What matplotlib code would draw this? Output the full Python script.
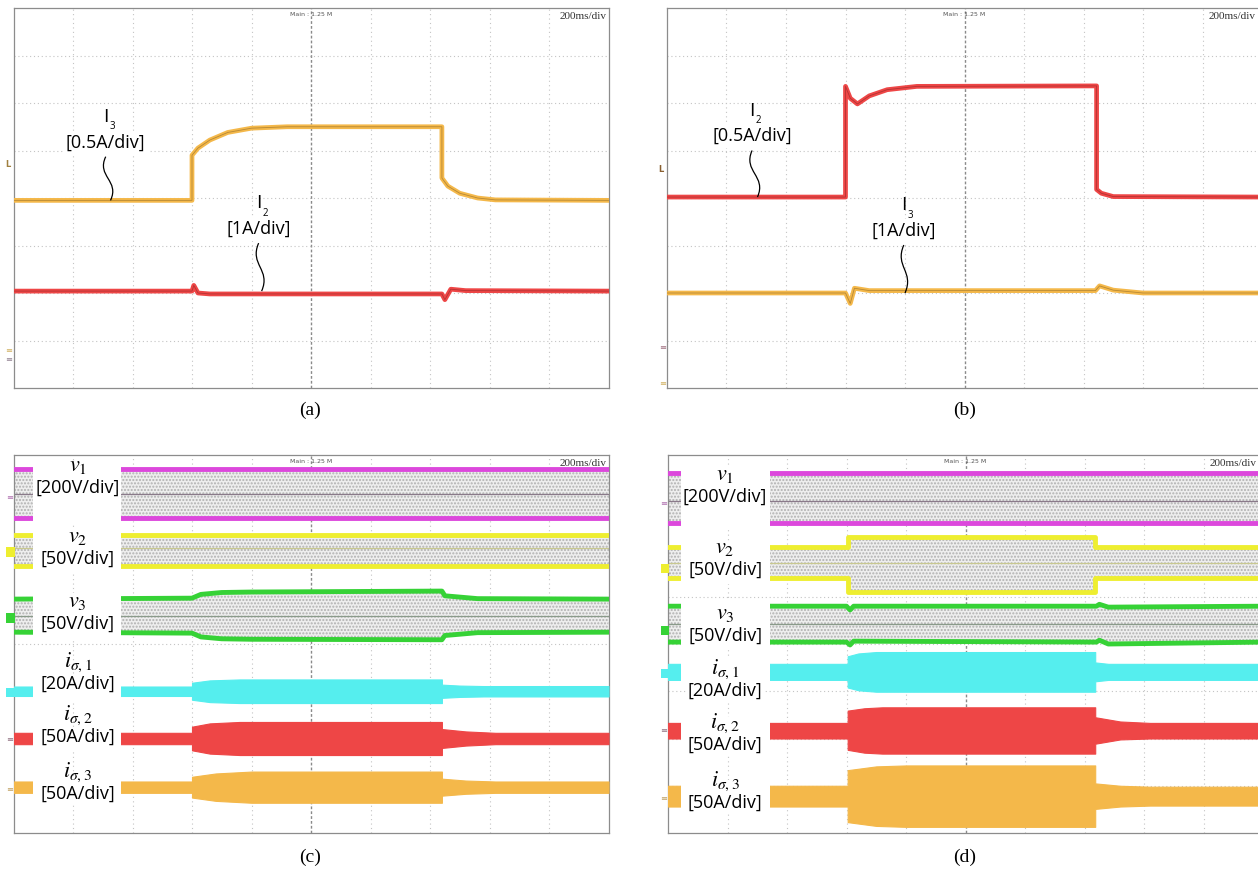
import numpy as np
import matplotlib
matplotlib.use("Agg")
import matplotlib.pyplot as plt
from matplotlib.path import Path
from matplotlib.patches import PathPatch, Rectangle

plt.rcParams['mathtext.fontset'] = 'stix'

# ---- data (in scope divisions: x 0..10 @ 200ms/div, y 0..8) ----
# panel (a)
a_t3 = [0, 3.0, 3.0, 3.1, 3.3, 3.6, 4.0, 4.6, 7.2, 7.2, 7.3, 7.5, 7.8, 8.1, 10]
a_i3 = [3.95, 3.95, 4.9, 5.05, 5.22, 5.38, 5.47, 5.5, 5.5, 4.42, 4.25, 4.1, 4.0, 3.96, 3.95]
a_t2 = [0, 3.0, 3.03, 3.1, 3.3, 7.2, 7.25, 7.35, 7.6, 10]
a_i2 = [2.04, 2.04, 2.16, 2.0, 1.98, 1.98, 1.86, 2.08, 2.05, 2.04]

# panel (b)
b_t2 = [0, 3.0, 3.0, 3.08, 3.2, 3.4, 3.7, 4.2, 7.22, 7.22, 7.3, 7.5, 10]
b_i2 = [4.02, 4.02, 6.35, 6.1, 5.98, 6.15, 6.28, 6.35, 6.36, 4.18, 4.1, 4.03, 4.02]
b_t3 = [0, 3.0, 3.08, 3.15, 3.4, 7.2, 7.27, 7.5, 8.0, 10]
b_i3 = [2.0, 2.0, 1.78, 2.1, 2.05, 2.05, 2.15, 2.06, 2.0, 2.0]

# panel (c) envelopes
c_v1 = dict(t=[0, 10], up=[7.70, 7.70], lo=[6.67, 6.67], mid=[7.17, 7.17])
c_v2 = dict(t=[0, 10], up=[6.31, 6.31], lo=[5.65, 5.65], mid=[6.03, 6.03])
c_v3 = dict(t=[0, 3.0, 3.15, 3.5, 4.0, 7.2, 7.25, 7.8, 10],
            up=[4.95, 4.97, 5.05, 5.09, 5.1, 5.12, 5.02, 4.96, 4.95],
            lo=[4.25, 4.23, 4.15, 4.11, 4.1, 4.09, 4.18, 4.24, 4.25],
            mid=[4.59] * 9)
c_is1 = dict(t=[0, 3.0, 3.0, 3.3, 3.8, 7.2, 7.2, 7.5, 7.9, 10],
             up=[3.10, 3.10, 3.18, 3.23, 3.25, 3.25, 3.14, 3.12, 3.11, 3.11],
             lo=[2.90, 2.90, 2.82, 2.77, 2.75, 2.75, 2.86, 2.88, 2.89, 2.89])
c_is2 = dict(t=[0, 3.0, 3.0, 3.3, 3.8, 7.2, 7.2, 7.6, 8.1, 10],
             up=[2.12, 2.12, 2.25, 2.32, 2.35, 2.35, 2.2, 2.15, 2.12, 2.12],
             lo=[1.88, 1.88, 1.75, 1.68, 1.65, 1.65, 1.8, 1.85, 1.88, 1.88])
c_is3 = dict(t=[0, 3.0, 3.0, 3.4, 4.0, 7.2, 7.2, 7.6, 8.1, 10],
             up=[1.09, 1.09, 1.19, 1.26, 1.30, 1.30, 1.15, 1.11, 1.09, 1.09],
             lo=[0.85, 0.85, 0.75, 0.68, 0.64, 0.64, 0.79, 0.83, 0.85, 0.85])

# panel (d) envelopes
d_v1 = dict(t=[0, 10], up=[7.62, 7.62], lo=[6.56, 6.56], mid=[7.03, 7.03])
d_v2 = dict(t=[0, 3.02, 3.02, 7.18, 7.18, 10],
            up=[6.05, 6.05, 6.27, 6.27, 6.05, 6.05],
            lo=[5.40, 5.40, 5.10, 5.10, 5.40, 5.40],
            mid=[5.72] * 6)
d_v3 = dict(t=[0, 3.0, 3.06, 3.12, 7.2, 7.25, 7.4, 10],
            up=[4.80, 4.80, 4.72, 4.80, 4.80, 4.84, 4.78, 4.80],
            lo=[4.04, 4.04, 3.98, 4.06, 4.04, 4.08, 4.00, 4.04],
            mid=[4.42] * 8)
d_is1 = dict(t=[0, 3.02, 3.02, 3.2, 3.5, 7.18, 7.18, 7.4, 10],
             up=[3.58, 3.58, 3.74, 3.80, 3.83, 3.83, 3.61, 3.58, 3.58],
             lo=[3.24, 3.24, 3.08, 3.02, 2.99, 2.99, 3.21, 3.24, 3.24])
d_is2 = dict(t=[0, 3.02, 3.02, 3.3, 3.6, 7.18, 7.18, 7.6, 8.1, 10],
             up=[2.33, 2.33, 2.59, 2.64, 2.66, 2.66, 2.45, 2.36, 2.33, 2.33],
             lo=[2.00, 2.00, 1.76, 1.70, 1.68, 1.68, 1.89, 1.98, 2.00, 2.00])
d_is3 = dict(t=[0, 3.02, 3.02, 3.5, 4.0, 7.18, 7.18, 7.6, 8.1, 10],
             up=[1.00, 1.00, 1.33, 1.41, 1.43, 1.43, 1.05, 1.00, 0.98, 0.98],
             lo=[0.56, 0.56, 0.23, 0.15, 0.13, 0.13, 0.51, 0.56, 0.58, 0.58])

# labels
c_lab_sym = [r'$v_1$', r'$v_2$', r'$v_3$', r'$i_{\sigma,1}$', r'$i_{\sigma,2}$', r'$i_{\sigma,3}$']
c_lab_div = ['[200V/div]', '[50V/div]', '[50V/div]', '[20A/div]', '[50A/div]', '[50A/div]']
c_lab_y = [7.53, 6.04, 4.65, 3.38, 2.26, 1.05]
d_lab_y = [7.35, 5.80, 4.40, 3.23, 2.10, 0.86]

MAG = '#dc48dc'
YEL = '#eeee30'
GRN = '#36d236'
CYN = '#55eeee'
RED = '#ee4646'
ORG = '#f4b84a'

W, H = 1258.0, 869.0


def rect(l, t, w, h):
    return [l / W, 1 - (t + h) / H, w / W, h / H]


def scope(ax, xr=9.97):
    ax.set_xlim(0, 10)
    ax.set_ylim(0, 8)
    ax.set_xticks([])
    ax.set_yticks([])
    for k in range(1, 10):
        if k == 5:
            ax.axvline(k, color='#8a8a8a', lw=1.0, ls=(0, (2, 1.5)), zorder=0.5)
        else:
            ax.axvline(k, color='#c4c4c4', lw=0.8, ls=(0, (1, 3)), zorder=0.5)
    for k in range(1, 8):
        ax.axhline(k, color='#c4c4c4', lw=0.8, ls=(0, (1, 2.5)), zorder=0.5)
    for s in ax.spines.values():
        s.set_color('#8c8c8c')
        s.set_linewidth(0.9)
    ax.text(5.0, 7.86, 'Main : 1.25 M', ha='center', va='center', fontsize=4.5,
            color='#555555', family='DejaVu Sans')
    ax.text(xr, 7.82, '200ms/div', ha='right', va='center', fontsize=8,
            color='#333333', family='Liberation Serif')


def squiggle(ax, x0, y0, x1, y1):
    dy = y0 - y1
    verts = [(x0, y0), (x0 - 0.16, y0 - 0.45 * dy), (x1 + 0.16, y0 - 0.55 * dy), (x1, y1)]
    p = Path(verts, [Path.MOVETO, Path.CURVE4, Path.CURVE4, Path.CURVE4])
    ax.add_patch(PathPatch(p, fc='none', ec='black', lw=0.9, zorder=6))


def current_label(ax, x, y, sym, sub, div, lead_to):
    ax.text(x, y + 0.29, sym, ha='center', va='center', fontsize=14, family='Open Sans',
            zorder=7)
    ax.text(x + 0.06, y + 0.08, sub, ha='left', va='center', fontsize=7, family='Open Sans',
            zorder=7)
    ax.text(x, y - 0.25, div, ha='center', va='center', fontsize=13, family='Open Sans',
            zorder=7, bbox=dict(fc='white', ec='none', pad=2))
    squiggle(ax, x, y - 0.55, lead_to[0], lead_to[1])


def trace(ax, t, v, color, dark):
    ax.plot(t, v, color=color, lw=3.4, solid_joinstyle='round', zorder=3)
    ax.plot(t, v, color=dark, lw=0.6, alpha=0.5, zorder=3.1)


def vband(ax, d, color, midcolor):
    ax.fill_between(d['t'], d['lo'], d['up'], facecolor='#eeeeee', edgecolor='#b0b0b0',
                    hatch='.....', lw=0, zorder=2)
    ax.plot(d['t'], d['mid'], color=midcolor, lw=0.9, zorder=2.5)
    ax.plot(d['t'], d['up'], color=color, lw=3.5, zorder=3)
    ax.plot(d['t'], d['lo'], color=color, lw=3.5, zorder=3)


def iband(ax, d, color):
    ax.fill_between(d['t'], d['lo'], d['up'], facecolor=color, edgecolor=color, lw=0.8,
                    zorder=3)


def channel_labels(ax, ys, x, x0, x1, bands):
    for (sym, div, y, band) in zip(c_lab_sym, c_lab_div, ys, bands):
        ax.add_patch(Rectangle((x0, band['lo'][0] - 0.12), x1 - x0,
                               band['up'][0] - band['lo'][0] + 0.24,
                               fc='white', ec='none', zorder=4))
        ax.text(x, y + 0.23, sym, ha='center', va='center', fontsize=16, zorder=7)
        ax.text(x, y - 0.23, div, ha='center', va='center', fontsize=13,
                family='Open Sans', zorder=7,
                bbox=dict(fc='white', ec='none', pad=1))


fig = plt.figure(figsize=(12.58, 8.69), dpi=100)
fig.patch.set_facecolor('white')

ax_a = fig.add_axes(rect(13.5, 8, 595, 380))
ax_b = fig.add_axes(rect(667, 8, 595, 380))
ax_c = fig.add_axes(rect(13.5, 455, 595, 378))
ax_d = fig.add_axes(rect(668, 455, 595, 378))

scope(ax_a)
scope(ax_b, 9.9)
scope(ax_c)
scope(ax_d, 9.9)

# (a)
trace(ax_a, a_t3, a_i3, ORG, '#7a5a20')
trace(ax_a, a_t2, a_i2, RED, '#7a2020')
current_label(ax_a, 1.55, 5.42, 'I', '3', '[0.5A/div]', (1.63, a_i3[0]))
current_label(ax_a, 4.12, 3.60, 'I', '2', '[1A/div]', (4.17, a_i2[-1]))
ax_a.text(-0.1, 4.7, 'L', ha='center', va='center', fontsize=6, color='#a08040',
          fontweight='bold', clip_on=False)
ax_a.text(-0.08, 0.80, '≡', ha='center', va='center', fontsize=6, color='#d0b060', clip_on=False)
ax_a.text(-0.08, 0.59, '≡', ha='center', va='center', fontsize=6, color='#908090', clip_on=False)

# (b)
trace(ax_b, b_t2, b_i2, RED, '#7a2020')
trace(ax_b, b_t3, b_i3, ORG, '#7a5a20')
current_label(ax_b, 1.43, 5.55, 'I', '2', '[0.5A/div]', (1.52, b_i2[0]))
current_label(ax_b, 3.98, 3.56, 'I', '3', '[1A/div]', (4.0, b_i3[-1]))
ax_b.text(-0.1, 4.6, 'L', ha='center', va='center', fontsize=6, color='#8a6030',
          fontweight='bold', clip_on=False)
ax_b.text(-0.08, 0.86, '≡', ha='center', va='center', fontsize=6, color='#a07080', clip_on=False)
ax_b.text(-0.08, 0.10, '≡', ha='center', va='center', fontsize=6, color='#d0b060', clip_on=False)

# (c)
vband(ax_c, c_v1, MAG, '#8a7a8a')
vband(ax_c, c_v2, YEL, '#c8c890')
vband(ax_c, c_v3, GRN, '#8a9a8a')
iband(ax_c, c_is1, CYN)
iband(ax_c, c_is2, RED)
iband(ax_c, c_is3, ORG)
channel_labels(ax_c, c_lab_y, 1.08, 0.32, 1.80, [c_v1, c_v2, c_v3, c_is1, c_is2, c_is3])

# (d)
vband(ax_d, d_v1, MAG, '#8a7a8a')
vband(ax_d, d_v2, YEL, '#c8c890')
vband(ax_d, d_v3, GRN, '#8a9a8a')
iband(ax_d, d_is1, CYN)
iband(ax_d, d_is2, RED)
iband(ax_d, d_is3, ORG)
channel_labels(ax_d, d_lab_y, 0.96, 0.22, 1.72, [d_v1, d_v2, d_v3, d_is1, d_is2, d_is3])

# channel markers on the left edge
for ax, ys in ((ax_c, [7.1, 5.95, 4.55, 2.97, 1.98, 0.93]),
               (ax_d, [6.98, 5.6, 4.29, 3.37, 2.16, 0.74])):
    ax.text(-0.07, ys[0], '≡', ha='center', va='center', fontsize=6, color='#b070b0', clip_on=False)
    for y, c in zip(ys[1:4], (YEL, GRN, CYN)):
        ax.add_patch(Rectangle((-0.12, y - 0.1), 0.14, 0.2, fc=c, ec='none', clip_on=False, zorder=5))
    ax.text(-0.07, ys[4], '≡', ha='center', va='center', fontsize=6, color='#907080', clip_on=False)
    ax.text(-0.07, ys[5], '≡', ha='center', va='center', fontsize=6, color='#c0a060', clip_on=False)

for x, y, s in ((310, 410, '(a)'), (965, 410, '(b)'), (310, 857, '(c)'), (965, 857, '(d)')):
    fig.text(x / W, 1 - y / H, s, ha='center', va='center', fontsize=14,
             family='Liberation Serif')

fig.savefig('out.png', dpi=100)
